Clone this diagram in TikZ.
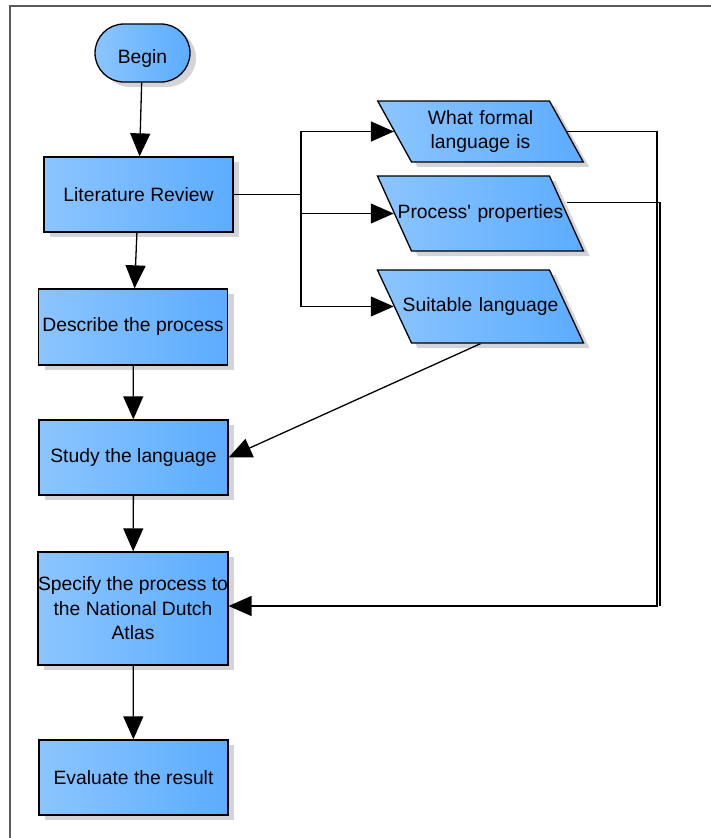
\documentclass[tikz,border=0pt]{standalone}
\usepackage{fontspec}
\setmainfont{Liberation Sans}
\usetikzlibrary{arrows.meta,shapes.geometric,shadows}
\definecolor{boxlight}{RGB}{140,197,255}
\definecolor{boxdark}{RGB}{92,172,255}
\definecolor{boxshade}{RGB}{212,212,216}
\definecolor{framegray}{RGB}{90,90,90}
\tikzset{
  flowbox/.style={draw=black, line width=1.3pt, left color=boxlight, right color=boxdark,
    drop shadow={shadow xshift=6pt, shadow yshift=-5pt, fill=boxshade, opacity=1},
    inner sep=0pt, align=center, font=\fontsize{19.3}{24.5}\selectfont},
  procbox/.style={flowbox, rectangle, minimum width=189pt, minimum height=75pt},
  startbox/.style={flowbox, rectangle, rounded corners=29pt, minimum width=95pt, minimum height=58pt,
    text height=20pt, text depth=0pt},
  databox/.style={flowbox, trapezium, inner xsep=0pt, text width=138pt, text height=14pt, text depth=5pt},
  flowline/.style={line width=1.3pt},
  flowarrow/.style={flowline, -{Triangle[length=23pt,width=20pt]}},
}
\begin{document}
\begin{tikzpicture}[x=1pt,y=-1pt]
\useasboundingbox (0,0) rectangle (711,838);
\draw[framegray, line width=1.5pt] (10,845) -- (10,6) -- (720,6);

\node[startbox] (begin) at (142.5,53) {Begin};
\node[procbox] (lit) at (138.5,194.5) {Literature Review};
\node[procbox, minimum height=76pt] (desc) at (133,327) {Describe the process};
\node[procbox] (study) at (133.5,457.5) {Study the language};
\node[procbox, minimum height=113pt] (spec) at (133,608.5) {Specify the process to\\the National Dutch\\Atlas};
\node[procbox] (eval) at (133.5,777.5) {Evaluate the result};

\node[databox, trapezium left angle=119, trapezium right angle=61, text depth=28.5pt, inner ysep=9.2pt] (what) at (480.5,131.5) {What formal\\language is};
\node[databox, trapezium left angle=114.4, trapezium right angle=65.6, inner ysep=28pt] (props) at (480.5,213.5) {\makebox[138pt]{Process\textquotesingle{} properties}};
\node[databox, trapezium left angle=115, trapezium right angle=65, inner ysep=27pt] (suit) at (480.5,306.5) {\makebox[138pt]{Suitable language}};

\coordinate (split) at (301,194.5);
\coordinate (rbus) at (657,606);

\draw[flowarrow] (begin) -- (lit);
\draw[flowarrow] (lit) -- (desc);
\draw[flowarrow] (desc) -- (study);
\draw[flowarrow] (study) -- (spec);
\draw[flowarrow] (spec) -- (eval);

\draw[flowline] (lit.east) -- (split);
\draw[flowarrow] (split) |- (what.west);
\draw[flowarrow] (split) |- (props.west);
\draw[flowarrow] (split) |- (suit.west);

\draw[flowarrow] (what.east) -| (rbus) -- (rbus -| spec.east);
\draw[flowline] ([yshift=11pt]props.east) -| ([xshift=3pt]rbus);
\draw[flowarrow] (suit.south) -- (study.east);
\end{tikzpicture}
\end{document}
